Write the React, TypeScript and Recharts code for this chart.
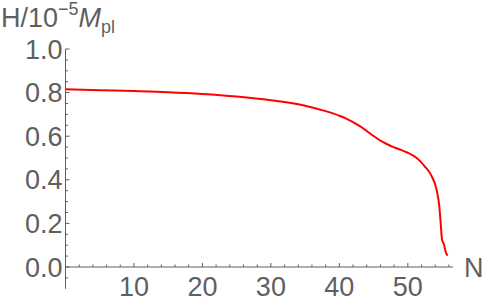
import { Line, LineChart, ReferenceLine, XAxis, YAxis } from "recharts";

const nValues = [0, 5, 10, 15, 20, 25, 30, 35, 38, 40, 41, 42, 43, 44, 45, 46, 47, 48, 49, 50, 51.3, 52.5, 53.5, 54.2, 54.6, 54.8, 55.0, 55.3, 55.5, 55.8];
const hValues = [0.815, 0.811, 0.807, 0.802, 0.794, 0.782, 0.765, 0.74, 0.715, 0.694, 0.681, 0.665, 0.646, 0.624, 0.601, 0.58, 0.563, 0.549, 0.537, 0.524, 0.5, 0.461, 0.416, 0.355, 0.278, 0.202, 0.125, 0.102, 0.072, 0.052];

const xTicks = [2, 4, 6, 8, 10, 12, 14, 16, 18, 20, 22, 24, 26, 28, 30, 32, 34, 36, 38, 40, 42, 44, 46, 48, 50, 52, 54, 56];
const xLabeled = [10, 20, 30, 40, 50];
const yTicks = [0, 0.05, 0.1, 0.15, 0.2, 0.25, 0.3, 0.35, 0.4, 0.45, 0.5, 0.55, 0.6, 0.65, 0.7, 0.75, 0.8, 0.85, 0.9, 0.95, 1.0];
const yLabeled = [0, 0.2, 0.4, 0.6, 0.8, 1.0];

const data = nValues.map((n, i) => ({ n, h: hValues[i] }));

const GRAY = "#5f5f5f";
const FONT = "'Liberation Sans', Arial, sans-serif";

function XTick({ x, y, payload }: any) {
  const major = xLabeled.includes(payload.value);
  return (
    <g>
      <line x1={x} x2={x} y1={y} y2={y - (major ? 4 : 2.5)} stroke={GRAY} strokeWidth={1} />
      {major && (
        <text x={x} y={y + 29} textAnchor="middle" fill={GRAY} fontSize={27} fontFamily={FONT}>
          {payload.value}
        </text>
      )}
    </g>
  );
}

function YTick({ x, y, payload }: any) {
  const major = yLabeled.some((v) => Math.abs(v - payload.value) < 1e-9);
  return (
    <g>
      <line x1={x} x2={x + (major ? 4 : 2.5)} y1={y} y2={y} stroke={GRAY} strokeWidth={1} />
      {major && (
        <text x={x - 3} y={y + 9.5} textAnchor="end" fill={GRAY} fontSize={27} fontFamily={FONT}>
          {payload.value.toFixed(1)}
        </text>
      )}
    </g>
  );
}

export default function App() {
  return (
    <div style={{ position: "fixed", left: 0, top: 0, background: "#fff" }}>
      <LineChart width={486} height={307} data={data} margin={{ top: 49, right: 33, bottom: 0, left: 0 }}>
        <XAxis
          dataKey="n"
          type="number"
          domain={[0, 56.6]}
          ticks={xTicks}
          interval={0}
          tickLine={false}
          tickSize={0}
          tickMargin={0}
          axisLine={{ stroke: GRAY }}
          tick={<XTick />}
          height={40}
          allowDataOverflow
        />
        <YAxis
          type="number"
          domain={[0, 1]}
          ticks={yTicks}
          interval={0}
          tickLine={false}
          tickSize={0}
          tickMargin={0}
          axisLine={{ stroke: GRAY }}
          tick={<YTick />}
          width={65.5}
          allowDataOverflow
          label={{
            content: () => (
              <text x={1} y={27} fill={GRAY} fontSize={27} fontFamily={FONT}>
                <tspan>H/10</tspan>
                <tspan dy={-12} fontSize={18}>−5</tspan>
                <tspan dy={12} fontStyle="italic">M</tspan>
                <tspan dy={6} fontSize={18}>pl</tspan>
              </text>
            ),
          }}
        />
        <ReferenceLine segment={[{ x: 0, y: 0 }, { x: 0, y: -0.1 }]} stroke={GRAY} ifOverflow="visible" />
        <ReferenceLine segment={[{ x: 0, y: -0.05 }, { x: 0.37, y: -0.05 }]} stroke={GRAY} ifOverflow="visible" />
        <ReferenceLine
          segment={[{ x: 56.6, y: 0 }, { x: 56.6, y: 0 }]}
          stroke="none"
          ifOverflow="visible"
          label={{ value: "N", position: "right", fill: GRAY, fontSize: 27, fontFamily: FONT, offset: 11 }}
        />
        <Line
          type="monotone"
          dataKey="h"
          stroke="#ff0000"
          strokeWidth={2}
          dot={false}
          isAnimationActive={false}
        />
      </LineChart>
    </div>
  );
}
